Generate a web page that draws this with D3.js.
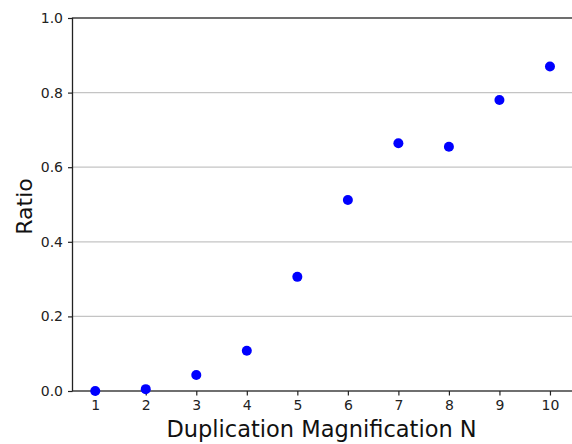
<!DOCTYPE html>
<html><head><meta charset="utf-8">
<script src="https://cdn.jsdelivr.net/npm/d3@7"></script>
<style>html,body{margin:0;padding:0;background:#fff;overflow:hidden}</style>
</head><body>
<svg id="c" width="572" height="444"></svg>
<script>
const nValues = [1, 2, 3, 4, 5, 6, 7, 8, 9, 10];
const ratioValues = [0.0, 0.005, 0.043, 0.108, 0.306, 0.512, 0.664, 0.655, 0.780, 0.870];
const yTicks = [0.0, 0.2, 0.4, 0.6, 0.8, 1.0];
const xTicks = [1, 2, 3, 4, 5, 6, 7, 8, 9, 10];

const svg = d3.select("#c");
const mLeft = 72.5, mRight = 572.7, mTop = 18, mBottom = 391;
const x = d3.scaleLinear().domain([0.55, 10.45]).range([mLeft, mRight]);
const y = d3.scaleLinear().domain([0, 1]).range([mBottom, mTop]);
const font = "DejaVu Sans, sans-serif";

// gridlines
svg.append("g").selectAll("line").data(yTicks.filter(d => d > 0 && d < 1)).join("line")
  .attr("x1", mLeft).attr("x2", mRight)
  .attr("y1", d => y(d)).attr("y2", d => y(d))
  .attr("stroke", "#c4c4c4").attr("stroke-width", 1.3);

// axes
const yAxis = d3.axisLeft(y).tickValues(yTicks).tickFormat(d3.format(".1f")).tickSize(4.5).tickPadding(5);
const gy = svg.append("g").attr("transform", `translate(${mLeft},0)`).call(yAxis);
const xAxis = d3.axisBottom(x).tickValues(xTicks).tickFormat(d3.format("d")).tickSize(4.5).tickPadding(5);
const gx = svg.append("g").attr("transform", `translate(0,${mBottom})`).call(xAxis);
[gx, gy].forEach(g => {
  g.select(".domain").remove();
  g.selectAll(".tick line").attr("stroke", "#222").attr("stroke-width", 1.2);
  g.selectAll(".tick text").attr("fill", "#222").style("font-family", font).style("font-size", "14px");
});

// spines
svg.append("rect").attr("x", mLeft).attr("y", mTop).attr("width", mRight - mLeft).attr("height", mBottom - mTop)
  .attr("fill", "none").attr("stroke", "#222").attr("stroke-width", 1.3);

// points
svg.append("g").selectAll("circle").data(nValues.map((n, i) => [n, ratioValues[i]])).join("circle")
  .attr("cx", d => x(d[0])).attr("cy", d => y(d[1])).attr("r", 5)
  .attr("fill", "#0000ff");

// labels
svg.append("text").attr("x", (mLeft + mRight) / 2 - 1).attr("y", 437)
  .attr("text-anchor", "middle").style("font-family", font).style("font-size", "22.5px").attr("fill", "#111")
  .text("Duplication Magnification N");
svg.append("text").attr("transform", `translate(32,${(mTop + mBottom) / 2 + 2}) rotate(-90)`)
  .attr("text-anchor", "middle").style("font-family", font).style("font-size", "22px").attr("fill", "#111")
  .text("Ratio");
</script>
</body></html>
